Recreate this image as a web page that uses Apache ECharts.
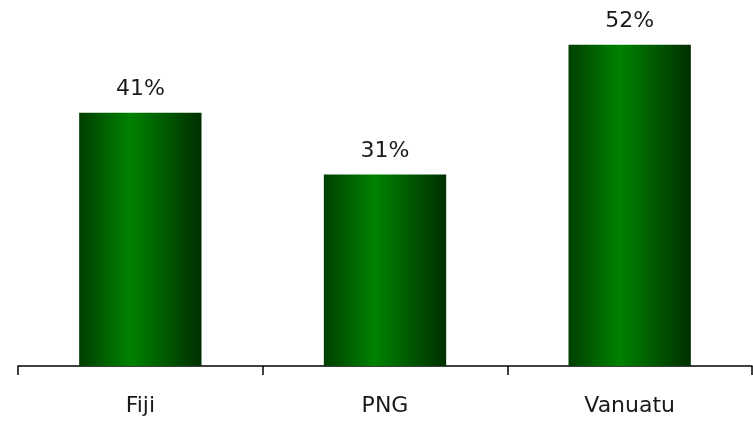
<!DOCTYPE html>
<html><head><meta charset="utf-8">
<script src="https://cdn.jsdelivr.net/npm/echarts@6/dist/echarts.min.js"></script>
<style>html,body{margin:0;padding:0;background:#fff}#c{width:753px;height:421px}</style>
</head><body><div id="c"></div>
<script>
const categories = ['Fiji', 'PNG', 'Vanuatu'];
const values = [41, 31, 52];

const chart = echarts.init(document.getElementById('c'), null, {renderer: 'canvas'});
const grad = new echarts.graphic.LinearGradient(0, 0, 1, 0, [
  {offset: 0, color: '#003f00'},
  {offset: 0.42, color: '#008200'},
  {offset: 1, color: '#002f00'}
]);
chart.setOption({
  animation: false,
  grid: {left: 18, right: 1, bottom: 55, top: 20},
  xAxis: {
    type: 'category', data: categories,
    axisLine: {lineStyle: {color: '#000', width: 1.5}},
    axisTick: {show: true, length: 9, lineStyle: {color: '#000', width: 1.5}},
    axisLabel: {fontFamily: 'DejaVu Sans', fontSize: 22, color: '#1a1a1a', margin: 29}
  },
  yAxis: {type: 'value', min: 0, max: 56, show: false, splitLine: {show: false}},
  series: [{
    type: 'bar', data: values, barWidth: '50%',
    itemStyle: {color: grad},
    label: {show: true, position: 'top', distance: 12, formatter: '{c}%',
      fontFamily: 'DejaVu Sans', fontSize: 22, color: '#1a1a1a'}
  }]
});
</script></body></html>
